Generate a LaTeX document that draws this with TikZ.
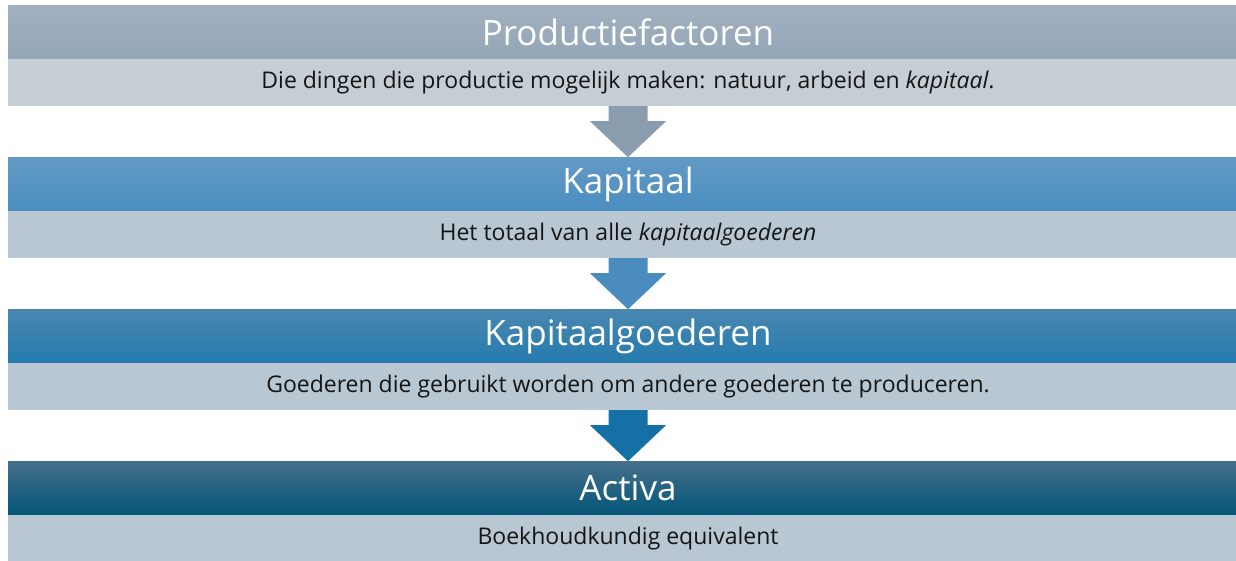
\documentclass[tikz,border=0pt]{standalone}
\usepackage{fontspec}
\setmainfont{Open Sans}
\usetikzlibrary{calc}
\definecolor{tAtop}{HTML}{A2B0BF}
\definecolor{tAbot}{HTML}{93A6B7}
\definecolor{tBtop}{HTML}{6399C4}
\definecolor{tBbot}{HTML}{4A8EC1}
\definecolor{tCtop}{HTML}{4A87B0}
\definecolor{tCbot}{HTML}{247BAE}
\definecolor{tDtop}{HTML}{456F8A}
\definecolor{tDbot}{HTML}{035679}
\definecolor{dAcol}{HTML}{C5CDD5}
\definecolor{dBcol}{HTML}{B8C7D2}
\definecolor{arA}{HTML}{8A9DAF}
\definecolor{arB}{HTML}{4A8CBE}
\definecolor{arC}{HTML}{1470A5}
\definecolor{desctext}{HTML}{151515}
\tikzset{
  titleband/.style={rectangle, minimum width=1240pt, minimum height=54pt, inner sep=0pt,
    text=white, font=\fontsize{35}{40}\selectfont, shading=axis},
  descband/.style={rectangle, minimum width=1240pt, minimum height=47pt, inner sep=0pt,
    text=desctext, font=\fontsize{23}{27}\selectfont},
  blockarrow/.pic={\fill[pic actions] (-19.5,0) -- (19.5,0) -- (19.5,15) -- (38,15) -- (0,51) -- (-38,15) -- (-19.5,15) -- cycle;}
}
\begin{document}
\begin{tikzpicture}[x=1pt,y=-1pt]
\useasboundingbox (0,0) rectangle (1236,560);
\clip (0,0) rectangle (1236,560);
% block 1
\node[titleband, top color=tAtop, bottom color=tAbot] (t1) at (628,32) {Productiefactoren};
\node[descband, fill=dAcol] (d1) at (628,82.5) {Die dingen die productie mogelijk maken: natuur, arbeid en \textit{kapitaal}.};
% block 2
\node[titleband, top color=tBtop, bottom color=tBbot] (t2) at (628,184) {Kapitaal};
\node[descband, fill=dBcol] (d2) at (628,234.5) {Het totaal van alle \textit{kapitaalgoederen}};
% block 3
\node[titleband, top color=tCtop, bottom color=tCbot] (t3) at (628,336) {Kapitaalgoederen};
\node[descband, fill=dBcol] (d3) at (628,386.5) {Goederen die gebruikt worden om andere goederen te produceren.};
% block 4
\node[titleband, top color=tDtop, bottom color=tDbot] (t4) at (628,488) {Activa};
\node[descband, fill=dBcol] (d4) at (628,538.5) {Boekhoudkundig equivalent};
% arrows
\pic[fill=arA] at (d1.south) {blockarrow};
\pic[fill=arB] at (d2.south) {blockarrow};
\pic[fill=arC] at (d3.south) {blockarrow};
\end{tikzpicture}
\end{document}
